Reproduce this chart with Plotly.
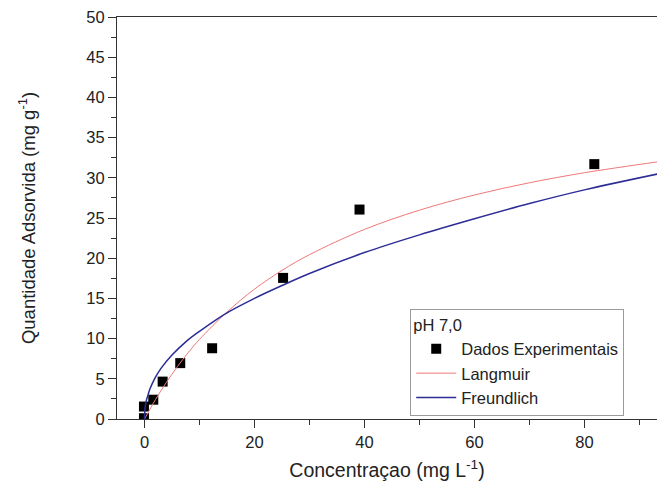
import plotly.graph_objects as go

conc_exp = [-0.1, -0.1, 1.6, 3.3, 6.5, 12.3, 25.2, 39.1, 81.8]
q_exp = [0.1, 1.55, 2.4, 4.65, 6.95, 8.8, 17.55, 26.05, 31.7]

# Langmuir fit curve
conc_lang = [0, 2, 4, 6, 8, 10, 15, 20, 25, 30, 40, 50, 60, 70, 80, 93.5]
q_lang = [0, 2.42, 4.58, 6.53, 8.30, 9.90, 13.3, 16.15, 18.48, 20.44, 23.58,
          25.97, 27.86, 29.38, 30.63, 32.0]

# Freundlich fit curve
conc_freu = [0, 0.1, 0.3, 0.6, 1, 2, 3, 5, 7.5, 10, 15, 20, 25, 30, 40, 50,
             60, 70, 80, 93.5]
q_freu = [0, 1.3, 2.2, 2.9, 3.75, 5.2, 6.3, 7.95, 9.6, 10.9, 13.2, 15.0, 16.6,
          18.1, 20.7, 22.9, 24.9, 26.8, 28.5, 30.5]

x_ticks = [0, 20, 40, 60, 80]
y_ticks = [0, 5, 10, 15, 20, 25, 30, 35, 40, 45, 50]

FONT = "Liberation Sans, Arial, sans-serif"
INK = "#222222"
AXIS = "#333333"

fig = go.Figure()
fig.add_trace(go.Scatter(
    x=conc_exp, y=q_exp, mode="markers", name="Dados Experimentais",
    marker=dict(symbol="square", size=10, color="black"),
))
fig.add_trace(go.Scatter(
    x=conc_lang, y=q_lang, mode="lines", name="Langmuir",
    line=dict(color="#f07878", width=1, shape="spline"),
))
fig.add_trace(go.Scatter(
    x=conc_freu, y=q_freu, mode="lines", name="Freundlich",
    line=dict(color="#2c2c96", width=1.5, shape="spline"),
))

fig.update_layout(
    width=657, height=491,
    margin=dict(l=117, r=0, t=17, b=72),
    paper_bgcolor="white", plot_bgcolor="white",
    font=dict(family=FONT, color=INK, size=16),
    showlegend=True,
    legend=dict(
        title=dict(text="pH 7,0", font=dict(size=16.5, family=FONT, color=INK)),
        font=dict(size=16.5, family=FONT, color=INK),
        x=0.543, y=0.2736, xanchor="left", yanchor="top",
        bgcolor="white", bordercolor="#9a9a9a", borderwidth=1,
        itemwidth=40, tracegroupgap=0,
    ),
)
fig.update_xaxes(
    range=[-5.0, 93.2], showgrid=False, zeroline=False,
    showline=True, linecolor=AXIS, linewidth=1.2, mirror=True,
    ticks="outside", ticklen=8, tickwidth=1.2, tickcolor=AXIS,
    tickvals=x_ticks, ticktext=[str(v) for v in x_ticks],
    tickfont=dict(size=16.5, family=FONT, color=INK),
    minor=dict(ticks="outside", ticklen=5, tickwidth=1.2, tickcolor=AXIS, dtick=10, tick0=0),
    title=dict(text="Concentraçao (mg L<sup>-1</sup>)", font=dict(size=19.5, family=FONT, color=INK), standoff=13),
)
fig.update_yaxes(
    range=[0, 50], showgrid=False, zeroline=False,
    showline=True, linecolor=AXIS, linewidth=1.2, mirror=False,
    ticks="outside", ticklen=8, tickwidth=1.2, tickcolor=AXIS,
    tickvals=y_ticks, ticktext=[str(v) for v in y_ticks],
    tickfont=dict(size=16.5, family=FONT, color=INK),
    minor=dict(ticks="outside", ticklen=5, tickwidth=1.2, tickcolor=AXIS, dtick=2.5, tick0=0),
    title=dict(text="Quantidade Adsorvida (mg g<sup>-1</sup>)", font=dict(size=18.5, family=FONT, color=INK), standoff=45),
)

fig.write_html("out.html")
